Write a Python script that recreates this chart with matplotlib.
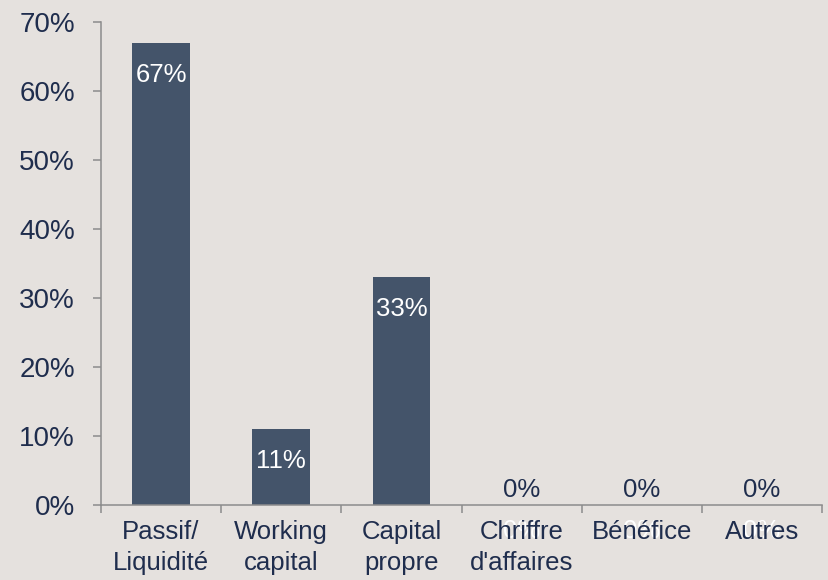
import matplotlib
matplotlib.use('Agg')
import matplotlib.pyplot as plt
from matplotlib.ticker import FuncFormatter

categories = ['Passif/\nLiquidité', 'Working\ncapital', 'Capital\npropre',
              'Chriffre\nd\'affaires', 'Bénéfice', 'Autres']
shares = [67, 11, 33, 0, 0, 0]

bg = '#e5e1de'
bar_col = '#44546a'
txt_col = '#1f2d4d'
axis_col = '#8c8c8c'

plt.rcParams['font.family'] = ['Liberation Sans', 'DejaVu Sans']

fig = plt.figure(figsize=(8.29, 5.8), dpi=100, facecolor=bg)
ax = fig.add_axes([0.1218, 0.1293, 0.8698, 0.8327])
ax.set_facecolor(bg)

x = range(len(categories))
ax.bar(x, shares, width=0.48, color=bar_col, zorder=2)

for i, v in enumerate(shares):
    if v > 0:
        ax.annotate(f'{v}%', (i, v), xytext=(0, -23), textcoords='offset points',
                    ha='center', va='center', color='white', fontsize=18.5)
    else:
        # empty bar: white label ends up under the category name
        ax.annotate(f'{v}%', (i, v), xytext=(0, 11), textcoords='offset points',
                    ha='center', va='center', color=txt_col, fontsize=18.5)
        ax.annotate(f'{v}%', (i, v), xytext=(0, -19), textcoords='offset points',
                    ha='center', va='center', color='white', fontsize=18.5,
                    zorder=0, annotation_clip=False)

ax.set_xlim(-0.5, len(categories) - 0.5)
ax.set_ylim(0, 70)
ax.set_yticks(range(0, 71, 10))
ax.yaxis.set_major_formatter(FuncFormatter(lambda v, p: f'{v:.0f}%'))

ax.set_xticks([i + 0.5 for i in range(-1, len(categories))])
ax.set_xticklabels([])
ax.set_xticks(list(x), minor=True)
ax.set_xticklabels(categories, minor=True, fontsize=18.5, color=txt_col,
                   linespacing=1.35)
ax.tick_params(axis='x', which='minor', length=0, pad=11)
ax.tick_params(axis='x', which='major', length=5.8, width=1.1, color=axis_col)
ax.tick_params(axis='y', length=5.8, width=1.1, color=axis_col,
               labelsize=20, labelcolor=txt_col, pad=13)

for s in ['top', 'right']:
    ax.spines[s].set_visible(False)
for s in ['left', 'bottom']:
    ax.spines[s].set_color(axis_col)
    ax.spines[s].set_linewidth(1.1)

plt.savefig('out.png', dpi=100, facecolor=bg)
